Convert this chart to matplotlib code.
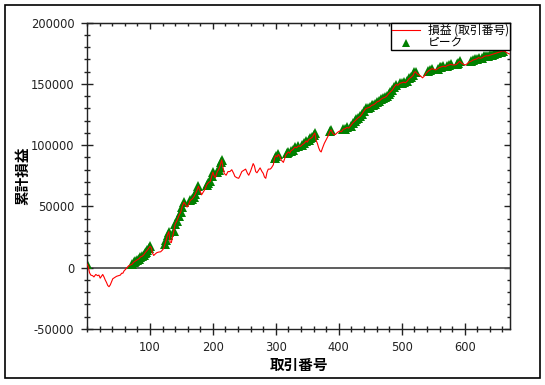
import numpy as np
import matplotlib
matplotlib.use("Agg")
import matplotlib.pyplot as plt
from matplotlib.ticker import MultipleLocator, FixedLocator
from matplotlib.lines import Line2D
from matplotlib.patches import Rectangle

plt.rcParams['font.family'] = ['DejaVu Sans', 'Noto Sans CJK JP']
plt.rcParams['axes.unicode_minus'] = False
JP = ['Noto Sans CJK JP', 'DejaVu Sans']

# values: trade number -> cumulative P/L
trade_no = [0, 2, 4, 6, 9, 11, 14, 17, 19, 21, 23, 25, 27, 29, 31, 33, 35, 37, 39, 41,
            44, 47, 50, 53, 55, 57, 59, 61, 64, 66, 69, 72, 74, 77, 80, 83, 85, 88, 90, 92,
            94, 96, 98, 100, 102, 104, 106, 109, 111, 114, 117, 120, 122, 124, 126, 128, 130, 132, 134, 136,
            138, 140, 143, 146, 149, 151, 154, 156, 159, 161, 164, 167, 170, 172, 175, 177, 179, 182, 185, 188,
            190, 193, 196, 198, 200, 202, 204, 207, 209, 211, 213, 214, 216, 218, 221, 224, 227, 230, 233, 235,
            238, 241, 243, 246, 249, 252, 255, 257, 260, 262, 264, 266, 268, 270, 273, 275, 278, 280, 282, 284,
            286, 288, 291, 293, 296, 298, 300, 302, 304, 306, 308, 310, 312, 314, 316, 318, 320, 322, 324, 327,
            330, 333, 336, 339, 342, 345, 348, 350, 352, 355, 358, 360, 362, 364, 366, 368, 370, 372, 374, 377,
            380, 383, 386, 388, 390, 393, 395, 398, 401, 404, 407, 410, 413, 416, 419, 422, 425, 428, 431, 434,
            437, 440, 443, 446, 449, 452, 455, 458, 461, 464, 467, 470, 473, 476, 479, 482, 485, 488, 491, 494,
            497, 500, 503, 506, 509, 512, 515, 518, 520, 522, 524, 527, 530, 533, 536, 539, 542, 545, 548, 551,
            554, 557, 560, 563, 566, 569, 572, 575, 578, 581, 584, 587, 590, 592, 595, 598, 601, 604, 607, 610,
            613, 616, 619, 622, 625, 628, 631, 634, 637, 640, 643, 646, 649, 652, 655, 658, 661, 664, 667, 671]

pnl = [3000, 1000, -4000, -6000, -6500, -7500, -5500, -6500, -6000, -8500,
       -7000, -5500, -7500, -10000, -12000, -14500, -15500, -14000, -11500, -9000,
       -8000, -7000, -6500, -6000, -4500, -4500, -2500, -1500, 300, 1500,
       2200, 3000, 4500, 5500, 6500, 7500, 8800, 9500, 10500, 12000,
       13200, 14500, 15800, 17500, 16500, 12000, 10000, 11500, 12300, 12800,
       13000, 14500, 16000, 19500, 23000, 27000, 29500, 21000, 20500, 25500,
       30000, 35500, 38500, 42500, 45500, 49500, 53500, 52000, 49500, 51000,
       55000, 56000, 58000, 60000, 63500, 66500, 63500, 59500, 62000, 64500,
       67500, 69500, 70500, 74500, 78000, 75000, 73500, 78500, 80000, 82500,
       86000, 88000, 82000, 77000, 75500, 78500, 78500, 80000, 77000, 74500,
       73500, 73000, 75000, 78500, 79500, 80500, 77000, 75500, 79000, 82000,
       85000, 83000, 78500, 77500, 80000, 81500, 78500, 77000, 74000, 73000,
       78000, 80500, 80500, 81500, 84000, 89500, 91500, 90500, 92500, 91000,
       88500, 87000, 86000, 89000, 92000, 93500, 94500, 93500, 95500, 96500,
       98500, 98000, 99500, 99000, 100500, 101500, 103500, 102500, 104500, 105500,
       106500, 108500, 110000, 104000, 101500, 98000, 95500, 94500, 97500, 101500,
       104500, 107500, 111500, 112500, 110000, 108500, 109000, 110500, 111500, 111000,
       113000, 113500, 114500, 114000, 116000, 118000, 119500, 121000, 122500, 123500,
       125500, 128000, 130000, 130500, 131000, 132500, 133000, 134000, 135500, 136000,
       137500, 138500, 139000, 140000, 142000, 143500, 145000, 147500, 149500, 149000,
       150500, 151000, 151500, 151000, 152500, 154500, 155500, 157000, 159500, 160000,
       158500, 157500, 156500, 155000, 156500, 159000, 160500, 161500, 162500, 162000,
       161500, 162500, 163500, 164000, 164500, 164000, 165000, 165500, 166000, 165500,
       165500, 166000, 167500, 168500, 167000, 166000, 165500, 166500, 168000, 168500,
       169500, 170000, 170500, 171500, 171000, 171500, 172500, 173000, 173000, 173500,
       174000, 174500, 175000, 175500, 176000, 176500, 177000, 176500, 175500, 174500]

line_label = '損益 (取引番号)'
peak_label = 'ピーク'

x = np.array(trade_no)
y = np.array(pnl)
is_peak = y >= np.maximum.accumulate(y)

fig = plt.figure(figsize=(5.45, 3.85), dpi=100)
ax = fig.add_axes([0.1596, 0.1455, 0.7762, 0.7955])

fig.patches.append(Rectangle((0.0086, 0.0182), 0.9822, 0.9696, transform=fig.transFigure,
                             fill=False, edgecolor='black', linewidth=1.2))

ax.axhline(0, color='#505050', linewidth=1.3, zorder=1)
ax.plot(x[is_peak], y[is_peak], linestyle='none', marker='^', markersize=6.5,
        color='#008000', markeredgewidth=0, zorder=2)
ax.plot(x, y, color='#ff0000', linewidth=0.8, zorder=3)

ax.set_xlim(0, 672)
ax.set_ylim(-50000, 200000)
ax.xaxis.set_major_locator(FixedLocator([100, 200, 300, 400, 500, 600]))
ax.xaxis.set_minor_locator(MultipleLocator(20))
ax.yaxis.set_major_locator(MultipleLocator(50000))
ax.yaxis.set_minor_locator(MultipleLocator(10000))
ax.tick_params(which='both', direction='inout', colors='#222222', labelsize=8.3, width=1)
ax.tick_params(which='major', length=8, pad=5)
ax.tick_params(which='minor', length=5)
for s in ax.spines.values():
    s.set_color('#222222')
    s.set_linewidth(1)

top = ax.secondary_xaxis('top')
top.set_xticks([100, 200, 300, 400, 500, 600])
top.xaxis.set_minor_locator(MultipleLocator(20))
top.tick_params(which='both', direction='in', labeltop=False, colors='#222222', width=1)
top.tick_params(which='major', length=4)
top.tick_params(which='minor', length=2.5)
right = ax.secondary_yaxis('right')
right.yaxis.set_major_locator(MultipleLocator(50000))
right.yaxis.set_minor_locator(MultipleLocator(10000))
right.tick_params(which='both', direction='in', labelright=False, colors='#222222', width=1)
right.tick_params(which='major', length=4)
right.tick_params(which='minor', length=2.5)

ax.set_xlabel('取引番号', family=JP, fontsize=10.5, fontweight='bold', labelpad=2)
ax.set_ylabel('累計損益', family=JP, fontsize=10.5, fontweight='bold')
ax.yaxis.set_label_coords(-0.135, 0.5)

handles = [Line2D([], [], color='#ff0000', linewidth=0.8),
           Line2D([], [], linestyle='none', marker='^', markersize=6, color='#008000', markeredgewidth=0)]
leg = ax.legend(handles, [line_label, peak_label], loc='upper right', borderaxespad=0,
                fancybox=False, edgecolor='black', framealpha=1, prop={'family': JP, 'size': 8.5},
                handlelength=2.4, handletextpad=0.7, labelspacing=0.0, borderpad=0.05,
                handleheight=0.5)
leg.get_frame().set_linewidth(1)
leg.set_zorder(10)

fig.savefig('out.png', dpi=100)
